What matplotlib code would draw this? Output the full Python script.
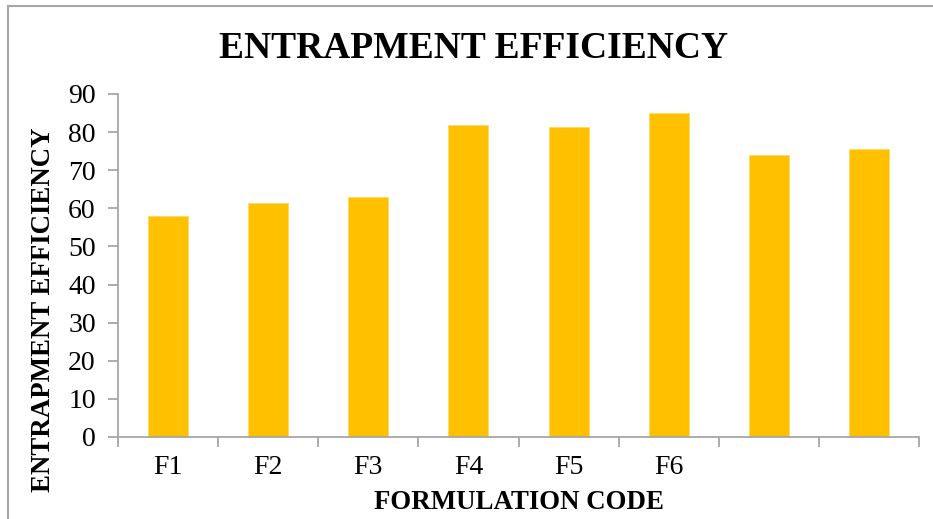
import numpy as np
import matplotlib
matplotlib.use("Agg")
import matplotlib.pyplot as plt
from matplotlib.lines import Line2D

# %% Data
formulations = ["F1", "F2", "F3", "F4", "F5", "F6", "", ""]
efficiency = [58.0, 61.4, 63.0, 81.9, 81.2, 84.9, 74.0, 75.6]
y_ticks = [0, 10, 20, 30, 40, 50, 60, 70, 80, 90]

plt.rcParams["font.family"] = ["Liberation Serif", "DejaVu Serif"]

# %% Plot
fig = plt.figure(figsize=(9.33, 5.19), dpi=100)
ax = fig.add_axes([0.1265, 0.158, 0.8585, 0.661])

x = np.arange(len(efficiency))
ax.bar(x, efficiency, width=0.4, color="#FFC000", edgecolor="#FFD966", linewidth=0.6, zorder=2)

ax.set_xlim(-0.5, len(efficiency) - 0.5)
ax.set_ylim(0, 90)
ax.set_yticks(y_ticks)
ax.set_xticks(x)
ax.set_xticklabels(formulations)
ax.set_xticks(np.arange(-0.5, len(efficiency)), minor=True)

grey = "#A6A6A6"
for side in ["top", "right"]:
    ax.spines[side].set_visible(False)
for side in ["left", "bottom"]:
    ax.spines[side].set_color(grey)
    ax.spines[side].set_linewidth(1.3)

ax.tick_params(axis="y", length=7, width=1.3, color=grey, labelsize=20, pad=9)
ax.tick_params(axis="x", which="major", length=0, labelsize=20, pad=13)
ax.tick_params(axis="x", which="minor", length=7, width=1.3, color=grey)

# title sits centred on the whole chart area, not on the plot area
fig.text(474 / 933, 1 - 48 / 519, "ENTRAPMENT EFFICIENCY", fontsize=27, fontweight="bold",
         ha="center", va="center")
ax.set_xlabel("FORMULATION CODE", fontsize=19.4, fontweight="bold")
ax.set_ylabel("ENTRAPMENT EFFICIENCY", fontsize=19.4, fontweight="bold")
ax.xaxis.set_label_coords(0.5, -0.192)
ax.yaxis.set_label_coords(-0.093, 0.37)
ax.xaxis.label.set_va("center")
ax.yaxis.label.set_va("center")

# thin grey frame lines on the left and top edge of the figure
fig.add_artist(Line2D([8 / 933, 8 / 933], [0, 1 - 6 / 519], color=grey, lw=1.5, transform=fig.transFigure))
fig.add_artist(Line2D([8 / 933, 1], [1 - 6 / 519, 1 - 6 / 519], color=grey, lw=1.5, transform=fig.transFigure))

plt.savefig("out.png", dpi=100)
plt.close()
